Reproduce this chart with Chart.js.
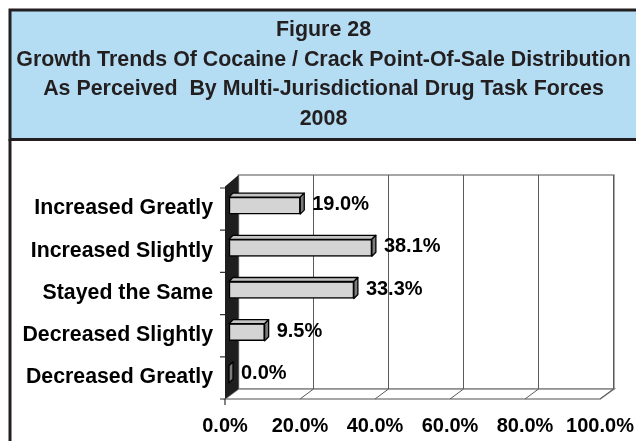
<!DOCTYPE html>
<html>
<head>
<meta charset="utf-8">
<title>Figure 28</title>
<script src="https://cdn.jsdelivr.net/npm/chart.js@4/dist/chart.umd.min.js"></script>
<style>
  html, body { margin: 0; padding: 0; background: #fff; }
  canvas { display: block; }
</style>
</head>
<body>
<canvas id="chart" width="636" height="441"></canvas>
<script>
'use strict';

//*****GLOBALS******/

let titleLines = [
  'Figure 28',
  'Growth Trends Of Cocaine / Crack Point-Of-Sale Distribution',
  'As Perceived  By Multi-Jurisdictional Drug Task Forces',
  '2008'
];
let categories = ['Increased Greatly', 'Increased Slightly', 'Stayed the Same', 'Decreased Slightly', 'Decreased Greatly'];
let shares = [19.0, 38.1, 33.3, 9.5, 0.0];
let axisMax = 100;
let axisStep = 20;

let fontFamily = '"Liberation Sans", Arial, Helvetica, sans-serif';
let depth = 4; // bar depth in px

//*****CANVAS ELEMENT FOR CHART*******/

let canvasElem = document.getElementById('chart');

//*****PLUGINS*******/

// blue heading box + outer frame
let headingBox = {
  id: 'headingBox',
  beforeDraw(chart) {
    let ctx = chart.ctx;
    ctx.save();
    ctx.fillStyle = '#fff';
    ctx.fillRect(0, 0, chart.width, chart.height);

    ctx.fillStyle = '#B4DDF4';
    ctx.fillRect(10, 10, 640, 129.5);
    ctx.strokeStyle = '#231F20';
    ctx.lineWidth = 3;
    ctx.strokeRect(10, 10, 640, 129.5);

    ctx.beginPath();
    ctx.moveTo(10, 139);
    ctx.lineTo(10, chart.height);
    ctx.stroke();

    ctx.fillStyle = '#231F20';
    ctx.font = 'bold 21.4px ' + fontFamily;
    ctx.textAlign = 'center';
    ctx.textBaseline = 'alphabetic';
    for (let i = 0; i < titleLines.length; i++) {
      ctx.fillText(titleLines[i], 323.5, 36 + i * 29.7);
    }
    ctx.restore();
  }
};

// 3d walls, floor and bar faces
let boxWalls = {
  id: 'boxWalls',
  beforeDatasetsDraw(chart) {
    let ctx = chart.ctx;
    let area = chart.chartArea;
    let xs = chart.scales.x;
    let x0 = xs.getPixelForValue(0);
    let x1 = xs.getPixelForValue(axisMax);

    let fl = x0 - 4, fr = x1 - 4, fb = area.bottom + 3.5, ft = area.top + 2;
    let bl = x0 + 9.5, br = x1 + 10, bb = area.bottom - 6.5, bt = area.top - 9.5;

    ctx.save();
    // back wall
    ctx.fillStyle = '#fff';
    ctx.fillRect(bl, bt, br - bl, bb - bt);
    ctx.strokeStyle = '#8A8A8A';
    ctx.lineWidth = 1.5;
    ctx.strokeRect(bl, bt, br - bl, bb - bt);

    // floor
    ctx.beginPath();
    ctx.moveTo(fl, fb);
    ctx.lineTo(fr, fb);
    ctx.lineTo(br, bb);
    ctx.lineTo(bl, bb);
    ctx.closePath();
    ctx.fill();
    ctx.stroke();

    // grid lines on the wall and floor
    ctx.strokeStyle = '#5A5A5A';
    ctx.lineWidth = 1;
    for (let v = axisStep; v <= axisMax; v += axisStep) {
      let px = xs.getPixelForValue(v);
      ctx.beginPath();
      ctx.moveTo(px + 9.5, bt);
      ctx.lineTo(px + 9.5, bb);
      ctx.lineTo(px - 4, fb);
      ctx.stroke();
    }

    // dark side wall
    ctx.fillStyle = '#1E1E1E';
    ctx.beginPath();
    ctx.moveTo(fl, ft);
    ctx.lineTo(bl, bt);
    ctx.lineTo(bl, bb);
    ctx.lineTo(fl, fb);
    ctx.closePath();
    ctx.fill();

    // category tick marks
    let ys = chart.scales.y;
    let band = (area.bottom - area.top) / categories.length;
    ctx.strokeStyle = '#333';
    ctx.lineWidth = 1.2;
    ctx.beginPath();
    for (let i = 0; i <= categories.length; i++) {
      let ty = ys.top + i * band + 3.5;
      ctx.moveTo(fl - 5, ty);
      ctx.lineTo(fl, ty);
    }
    ctx.moveTo(fl, fb);
    ctx.lineTo(fl, fb + 6);
    ctx.stroke();
    ctx.restore();
  },
  afterDatasetsDraw(chart) {
    let ctx = chart.ctx;
    let meta = chart.getDatasetMeta(0);
    ctx.save();
    ctx.strokeStyle = '#000';
    ctx.lineWidth = 1.3;
    ctx.lineJoin = 'round';
    meta.data.forEach((bar, i) => {
      let p = bar.getProps(['x', 'y', 'base', 'height'], true);
      let top = p.y - p.height / 2;
      let bottom = p.y + p.height / 2;

      // top face
      ctx.fillStyle = '#C4C4C4';
      ctx.beginPath();
      ctx.moveTo(p.base, top);
      ctx.lineTo(p.base + depth, top - depth);
      ctx.lineTo(p.x + depth, top - depth);
      ctx.lineTo(p.x, top);
      ctx.closePath();
      ctx.fill();
      ctx.stroke();

      // end face
      ctx.fillStyle = '#7C7C7C';
      ctx.beginPath();
      ctx.moveTo(p.x, top);
      ctx.lineTo(p.x + depth, top - depth);
      ctx.lineTo(p.x + depth, bottom - depth);
      ctx.lineTo(p.x, bottom);
      ctx.closePath();
      ctx.fill();
      ctx.stroke();

      // value label
      ctx.fillStyle = '#000';
      ctx.font = 'bold 20px ' + fontFamily;
      ctx.textAlign = 'left';
      ctx.textBaseline = 'middle';
      ctx.fillText(shares[i].toFixed(1) + '%', p.x + depth + 8, p.y - 1);
    });
    ctx.restore();
  }
};

//*****CHART*******/

let chartObj = {
  type: 'bar',
  data: {
    labels: categories,
    datasets: [{
      data: shares,
      backgroundColor: '#D4D4D4',
      borderColor: '#000',
      borderWidth: 1.5,
      borderSkipped: false,
      barThickness: 17
    }]
  },
  options: {
    indexAxis: 'y',
    responsive: false,
    animation: false,
    devicePixelRatio: 1,
    layout: {
      padding: { top: 184.5, left: 11, right: 32, bottom: 0 }
    },
    plugins: {
      legend: { display: false },
      title: { display: false },
      tooltip: { enabled: false }
    },
    scales: {
      x: {
        min: 0,
        max: axisMax,
        grid: { display: false, drawTicks: false },
        border: { display: false },
        ticks: {
          stepSize: axisStep,
          padding: 18.5,
          labelOffset: -4,
          maxRotation: 0,
          color: '#000',
          font: { family: fontFamily, size: 20, weight: 'bold' },
          callback: (v) => v.toFixed(1) + '%'
        },
        afterFit: (scale) => {
          scale.height = 45.5;
          scale.paddingLeft = 0;
          scale.paddingRight = 0;
        }
      },
      y: {
        grid: { display: false, drawTicks: false },
        border: { display: false },
        ticks: {
          padding: 16,
          labelOffset: 3,
          color: '#000',
          font: { family: fontFamily, size: 21.3, weight: 'bold' }
        },
        afterFit: (scale) => { scale.width = 218; }
      }
    }
  },
  plugins: [headingBox, boxWalls]
};

new Chart(canvasElem, chartObj);
</script>
</body>
</html>
